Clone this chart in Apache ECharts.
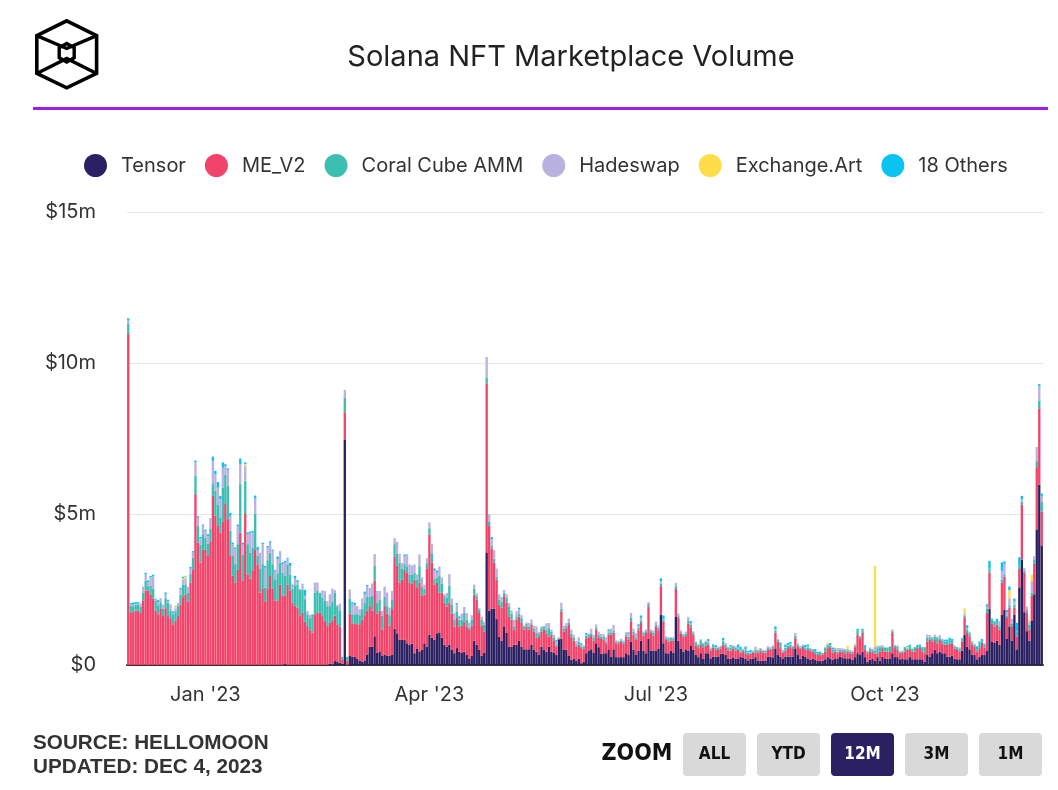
<!DOCTYPE html>
<html>
<head>
<meta charset="utf-8">
<script src="https://cdn.jsdelivr.net/npm/echarts@6/dist/echarts.min.js"></script>
<style>
html,body{margin:0;padding:0;background:#fff;}
#chart{width:1058px;height:790px;}
</style>
</head>
<body>
<div id="chart"></div>
<script>
// ---- DATA (daily, $ millions), first day 2022-12-01 ----
const startDate = '2022-12-01';
const seriesNames = ['Tensor', 'ME_V2', 'Coral Cube AMM', 'Hadeswap', 'Exchange.Art', '18 Others'];
const tickDays = [31, 121, 212, 304];
const tickLabels = ["Jan '23", "Apr '23", "Jul '23", "Oct '23"];
const yTickLabels = ['$0', '$5m', '$10m', '$15m'];

const tensor = [
0,0,0,0,0,0,0,0,0,0, 0,0,0,0,0,0,0,0,0,0, 0,0,0,0,0,0,0,0,0,0, 0,0,0,0,0,0,0,0,0,0,
0,0,0,0,0,0,0,0,0,0, 0,0,0,0,0,0,0,0,0,0, 0,0,0,0.03,0,0,0,0,0,0, 0,0,0,0,0,0,0,0,0,0,
0,0.05,0.02,0.13,0.12,0.08,0.05,7.45,0,0.3, 0.28,0.28,0.2,0.15,0.1,0.15,0.35,0.6,0.6,0.95,
0.4,0.45,0.3,0.35,0.3,0.3,0.35,1.2,1.05,0.83, 0.83,0.83,0.72,0.67,0.7,0.39,0.55,0.45,0.5,0.72,
0.6,1.0,0.9,0.83,1.05,1.08,0.9,0.67,0.61,0.67, 0.5,0.39,0.56,0.44,0.4,0.44,0.33,0.22,0.3,0.8,
0.67,0.5,0.3,0.41,3.73,1.8,1.87,1.87,1.52,0.94, 0.8,1.28,1.06,0.61,0.6,0.67,0.67,0.8,0.6,0.52,
0.52,0.52,0.67,0.5,0.44,0.33,0.61,0.5,0.44,0.61, 0.44,0.4,0.33,0.85,0.87,0.5,0.5,0.3,0.17,0.2,
0.15,0.2,0.06,0.1,0.39,0.48,0.52,0.4,0.72,0.59, 0.37,0.39,0.39,0.52,0.28,0.52,0.26,0.26,0.26,0.26,
0.39,0.33,0.78,0.5,0.33,0.48,0.81,0.48,0.39,0.87, 0.48,0.48,0.48,0.55,1.67,0.72,0.39,0.39,0.48,0.4,
1.59,0.8,0.55,0.44,0.52,0.48,0.63,0.5,0.33,0.26, 0.39,0.2,0.39,0.39,0.22,0.28,0.28,0.28,0.37,0.37,
0.33,0.2,0.2,0.25,0.2,0.2,0.28,0.25,0.2,0.15, 0.2,0.2,0.26,0.15,0.15,0.15,0.15,0.28,0.28,0.25,
0.55,0.33,0.28,0.2,0.28,0.28,0.28,0.28,0.55,0.33, 0.2,0.3,0.28,0.2,0.18,0.2,0.17,0.13,0.13,0.15,
0.19,0.26,0.22,0.17,0.22,0.22,0.28,0.25,0.22,0.22, 0.22,0.17,0.26,0.39,0.33,0.44,0.26,0.11,0.17,0.2,
0.14,0.26,0.14,0.28,0.2,0.2,0.2,0.39,0.26,0.26, 0.19,0.2,0.19,0.19,0.26,0.19,0.19,0.19,0.19,0.19,
0.11,0.33,0.28,0.39,0.5,0.39,0.44,0.39,0.39,0.28, 0.28,0.3,0.2,0.19,0.19,0.47,1.0,0.61,0.52,0.33,
0.33,0.19,0.28,0.33,0.33,0.47,1.86,0.78,0.73,0.81, 0.67,1.67,1.82,0.86,1.28,0.81,1.67,0.52,2.57,3.49,
1.75,1.12,0.8,1.48,2.34,4.49,5.97,3.96
];
const meV2 = [
10.96,1.75,1.75,1.8,1.8,1.72,2.14,2.47,2.47,2.34, 2.2,1.79,1.68,1.88,1.62,1.88,1.62,1.55,1.35,1.48,
1.62,2.0,2.25,2.34,2.09,2.73,3.15,5.66,4.05,3.39, 3.81,3.81,3.61,4.07,5.6,4.94,4.6,4.39,4.74,5.33,
4.83,3.61,2.95,2.73,3.15,4.39,2.8,5.0,3.0,2.86, 3.14,3.81,3.31,2.4,2.54,2.09,2.54,2.95,2.54,2.14,
2.14,2.67,2.29,2.26,2.67,2.47,2.07,1.96,1.9,1.62, 1.73,1.43,1.29,1.15,1.07,1.68,1.73,1.73,1.62,1.46,
1.29,1.35,1.46,1.5,1.23,1.18,0.12,0.92,0.15,1.4, 1.1,1.1,1.15,1.2,1.4,1.5,1.45,1.35,1.2,1.85,
1.3,1.35,0.87,1.6,1.4,1.0,1.5,2.4,2.23,1.9, 2.0,2.33,2.33,2.05,2.0,2.44,2.0,2.27,1.8,1.61,
2.6,3.33,2.5,1.84,1.67,1.31,1.5,1.39,1.33,1.39, 1.2,0.89,1.0,0.84,0.9,1.0,0.95,0.95,1.0,1.53,
1.5,1.22,1.0,0.7,5.6,2.8,1.99,1.52,1.31,1.06, 1.1,1.0,1.0,1.0,0.9,0.5,0.83,0.8,0.8,0.65,
0.76,0.65,0.66,0.6,0.45,0.6,0.5,0.67,0.61,0.33, 0.56,0.4,0.28,0.02,0.91,0.6,0.72,1.05,0.78,0.6,
0.45,0.47,0.5,0.45,0.5,0.44,0.44,0.4,0.45,0.33, 0.49,0.46,0.33,0.48,0.72,0.55,0.46,0.46,0.5,0.45,
0.56,0.5,0.67,0.5,0.5,0.67,0.58,0.5,0.67,1.07, 0.58,0.5,0.8,0.6,0.94,0.72,0.44,0.39,0.33,0.4,
0.93,0.76,0.48,0.5,0.44,0.9,0.6,0.5,0.32,0.3, 0.28,0.39,0.25,0.28,0.25,0.3,0.22,0.24,0.18,0.3,
0.26,0.28,0.28,0.3,0.28,0.3,0.13,0.2,0.19,0.18, 0.17,0.2,0.16,0.26,0.33,0.26,0.26,0.24,0.22,0.3,
0.52,0.44,0.28,0.2,0.19,0.28,0.31,0.25,0.34,0.28, 0.33,0.3,0.22,0.3,0.3,0.25,0.22,0.2,0.2,0.2,
0.25,0.3,0.37,0.24,0.22,0.17,0.17,0.2,0.17,0.22, 0.17,0.22,0.33,0.61,0.53,0.62,0.24,0.28,0.28,0.25,
0.24,0.13,0.3,0.28,0.24,0.24,0.24,0.67,0.3,0.25, 0.2,0.2,0.26,0.31,0.24,0.25,0.26,0.37,0.37,0.26,
0.28,0.45,0.56,0.39,0.33,0.33,0.39,0.33,0.28,0.39, 0.44,0.4,0.35,0.33,0.26,0.31,0.56,0.45,0.43,0.34,
0.28,0.26,0.28,0.41,0.25,1.26,1.2,0.6,0.55,0.53, 0.5,1.06,1.11,0.7,0.62,0.45,0.23,0.43,0.61,1.81,
1.3,0.61,0.37,0.81,1.01,2.06,2.53,1.12
];
const coralCube = [
0.33,0.2,0.2,0.2,0.2,0.22,0.25,0.33,0.14,0.28, 0.33,0.33,0.3,0.2,0.25,0.33,0.44,0.26,0.33,0.3,
0.33,0.33,0.42,0.33,0.3,0.28,0.4,0.6,0.55,0.6, 0.52,0.4,0.4,0.44,0.39,0.83,0.72,0.5,1.14,0.98,
1.1,0.83,0.66,0.61,0.85,1.6,0.86,1.1,1.0,0.85, 0.75,1.2,0.3,0.8,0.8,0.47,0.93,0.77,0.8,0.7,
0.9,0.72,0.77,0.66,0.66,0.53,0.44,0.68,0.77,0.88, 0.77,0.75,0.39,0.4,0.61,0.72,0.72,0.66,0.61,0.66,
0.66,0.55,0.61,0.77,0.6,0.55,0.1,0.47,0.12,0.5, 0.3,0.3,0.35,0.3,0.35,0.4,0.45,0.3,0.5,0.48,
0.35,0.35,0.45,0.3,0.25,0.35,0.3,0.4,0.4,0.65, 0.35,0.2,0.22,0.28,0.3,0.22,0.28,0.55,0.3,0.19,
0.17,0.2,0.3,0.17,0.17,0.58,0.3,0.22,0.28,0.56, 0.3,0.22,0.22,0.22,0.2,0.28,0.22,0.06,0.2,0.19,
0.11,0.11,0.2,0.22,0.19,0.14,0.08,0.13,0.1,0.17, 0.2,0.11,0.17,0.33,0.2,0.11,0.11,0.1,0.15,0.11,
0.09,0.11,0.05,0.1,0.17,0.11,0.11,0.11,0.11,0.28, 0.11,0.1,0.06,0.03,0.08,0.1,0.08,0.06,0.09,0.1,
0.06,0.1,0.06,0.05,0.08,0.07,0.09,0.1,0.06,0.08, 0.08,0.08,0.05,0.08,0.08,0.06,0.05,0.05,0.06,0.05,
0.06,0.1,0.11,0.1,0.06,0.08,0.09,0.08,0.06,0.08, 0.06,0.08,0.06,0.08,0.09,0.05,0.06,0.08,0.08,0.08,
0.09,0.06,0.06,0.06,0.07,0.1,0.1,0.06,0.1,0.1, 0.15,0.12,0.13,0.07,0.08,0.08,0.06,0.06,0.06,0.12,
0.08,0.08,0.1,0.07,0.1,0.05,0.06,0.06,0.1,0.07, 0.03,0.05,0.09,0.06,0.05,0.06,0.06,0.06,0.05,0.06,
0.07,0.06,0.17,0.05,0.1,0.08,0.08,0.08,0.08,0.06, 0.05,0.05,0.06,0.08,0.06,0.05,0.06,0.06,0.1,0.05,
0.14,0.11,0.04,0.11,0.08,0.05,0.05,0.05,0.1,0.05, 0.06,0.05,0.05,0.14,0.07,0.08,0.1,0.05,0.08,0.05,
0.1,0.2,0.15,0.05,0.14,0.14,0.17,0.06,0.08,0.09, 0.05,0.05,0.14,0.05,0.11,0.1,0.14,0.03,0.1,0.14,
0.2,0.13,0.06,0.1,0.11,0.17,0.06,0.1,0.11,0.11, 0.08,0.1,0.07,0.07,0.08,0.08,0.08,0.12,0.1,0.08,
0.06,0.07,0.15,0.06,0.1,0.13,0.13,0.13,0.17,0.06, 0.11,0.09,0.05,0.08,0.08,0.1,0.1,0.17,0.11,0.1,
0.08,0.09,0.17,0.11,0.15,0.2,0.26,0.33
];
const hadeswap = [
0.11,0.05,0.05,0.02,0.03,0.1,0.21,0.2,0.13,0.28, 0.4,0.05,0.1,0.13,0.13,0.13,0.05,0.2,0.05,0.1,
0.1,0.17,0.15,0.2,0.2,0.18,0.17,0.45,0.28,0.2, 0.28,0.22,0.25,0.31,0.77,0.55,0.55,0.6,0.66,0.28,
0.53,0.5,0.39,0.5,0.6,0.66,0.33,0.5,0.33,0.66, 0.5,0.5,0.2,0.52,0.66,0.66,0.42,0.33,0.44,0.28,
0.47,0.38,0.28,0.44,0.19,0.27,0.11,0.22,0.08,0.02, 0.17,0.11,0.11,0.11,0,0.33,0.28,0,0.24,0.33,
0.17,0.39,0.44,0.08,0.03,0.22,0,0.27,0,0.3, 0.35,0.3,0.25,0.2,0.35,0.3,0.35,0.3,0.4,0.39,
0.4,0.3,0.18,0.35,0.45,0.25,0.3,0.2,0.4,0.3, 0.2,0.25,0.4,0.33,0.3,0.28,0.17,0.39,0.3,0.14,
0.17,0.19,0.3,0.28,0.17,0.29,0.2,0.06,0.17,0.39, 0.2,0.22,0.22,0.05,0.2,0.2,0.22,0.17,0.15,0.14,
0.09,0.06,0.1,0.1,0.68,0.25,0.22,0.28,0.26,0.17, 0.15,0.09,0.11,0.11,0.1,0.22,0.17,0.15,0.1,0.03,
0.04,0.11,0.13,0.1,0.22,0.06,0.06,0,0.22,0.17, 0.06,0.1,0.11,0.02,0.2,0.1,0.09,0.13,0.13,0.1,
0.13,0.15,0.05,0.05,0.03,0.05,0.15,0.1,0.11,0.1, 0.09,0.09,0.15,0.05,0.12,0.2,0.05,0.03,0.05,0.05,
0.08,0.1,0.16,0.1,0.16,0.05,0.08,0.05,0.06,0.06, 0.06,0.08,0.1,0.08,0.08,0.03,0.06,0.06,0.03,0.05,
0.11,0.08,0.06,0.04,0.08,0.1,0.06,0.05,0.03,0.03, 0.03,0.03,0.03,0.05,0.03,0.04,0.03,0.02,0.03,0.03,
0.06,0.04,0.03,0.03,0.04,0.03,0.03,0.03,0.04,0.03, 0.03,0.03,0.1,0.03,0.03,0.03,0.03,0.05,0.04,0.04,
0.05,0.03,0.03,0.05,0.03,0.03,0.03,0.03,0.09,0.05, 0.05,0.03,0.02,0.04,0.03,0.03,0,0,0.02,0,
0.03,0.02,0.03,0,0.05,0.12,0.06,0.05,0.04,0.05, 0.05,0.03,0.02,0,0.03,0,0,0.03,0.05,0.03,
0.13,0.05,0.05,0.05,0,0,0,0.06,0.03,0.05, 0,0.03,0,0,0,0,0,0,0,0,
0,0.1,0.09,0.05,0.06,0.05,0.1,0.05,0,0, 0,0,0.03,0,0.05,0.05,0.05,0.04,0.05,0.05,
0.03,0,0,0,0,0.07,0,0,0,0, 0.17,0.3,0.37,0.11,0.23,0.17,0.1,0,0,0.09,
0.08,0.11,0.1,0.39,0.1,0.47,0.47,0.19
];
const exchangeArt = [
0,0,0,0,0,0,0,0,0,0, 0,0,0,0,0,0,0,0,0,0.05, 0,0,0.05,0.06,0,0,0,0,0,0, 0,0,0,0,0,0,0,0,0,0,
0,0,0,0,0,0,0,0.05,0,0, 0,0,0,0,0,0,0,0,0,0, 0,0,0,0,0,0,0,0,0,0, 0,0,0,0,0,0,0,0,0,0,
0,0,0,0,0,0,0,0,0,0, 0,0,0,0,0,0,0,0,0,0, 0,0,0,0,0,0,0,0,0,0, 0,0,0,0,0,0,0,0,0,0,
0,0,0,0,0,0,0,0,0,0, 0,0,0,0,0,0,0,0,0,0, 0,0,0,0,0,0,0,0,0,0, 0,0,0,0,0,0,0,0,0,0,
0,0,0,0,0,0,0,0,0,0, 0,0,0,0,0,0,0,0,0,0, 0,0,0,0,0,0,0,0,0,0, 0,0,0,0,0,0,0,0,0,0,
0,0,0,0,0,0,0,0,0,0, 0,0,0,0,0,0,0,0,0,0, 0,0,0,0,0,0,0,0,0,0, 0,0,0,0,0,0,0,0,0,0,
0,0,0,0,0,0,0,0,0,0, 0,0,0,0.04,0,0,0,0,0,0, 0,0,0,0,0,0,0,0,0,0, 0,0,0,0,0,0,0,0,0,0,
0,0.05,0,0,0,0,0,0,0,0.1, 0,0,0.05,0,0,0,0,0,0,0, 2.67,0,0,0,0,0,0,0,0,0, 0,0,0,0.05,0,0,0,0,0,0,
0,0,0,0,0,0,0,0,0,0, 0,0,0,0,0,0,0.19,0,0,0, 0,0,0,0,0,0,0,0,0,0, 0,0,0,0,0.27,0,0,0,0,0,
0,0,0.06,0.2,0,0,0,0
];
const others18 = [
0.08,0.05,0.07,0.06,0.05,0,0,0.05,0.06,0.05, 0.06,0.03,0.07,0,0,0.06,0.05,0,0.05,0.02,
0,0.05,0.05,0.02,0,0.06,0.05,0.06,0.05,0.05, 0.04,0.05,0.07,0.03,0.14,0.11,0.19,0.11,0.17,0.06,
0.05,0.1,0.05,0.05,0.05,0.19,0.06,0.06,0.06,0.05, 0.05,0.1,0.1,0,0.05,0.06,0.05,0.05,0.04,0.03,
0.08,0,0.06,0.06,0.03,0.11,0.04,0.09,0.06,0, 0.02,0.2,0,0,0,0,0,0,0,0,
0,0,0,0,0,0,0,0,0,0, 0.05,0.08,0,0,0,0.08,0.05,0,0,0,
0,0,0,0,0,0,0,0,0,0, 0,0.05,0,0,0,0,0,0,0,0,
0,0,0,0.08,0.07,0,0,0,0,0, 0,0,0.05,0.06,0,0,0,0,0,0,
0,0,0,0,0,0,0.08,0,0,0, 0,0,0,0,0,0,0,0.05,0,0,
0,0,0,0,0,0,0,0,0,0, 0,0,0.05,0,0,0,0,0,0,0,
0,0,0.05,0,0.06,0,0,0,0,0, 0,0,0,0.05,0,0,0,0,0,0,
0,0.05,0,0,0,0.07,0.08,0,0,0, 0,0,0,0,0.09,0.12,0,0,0,0,
0,0,0,0,0,0,0.06,0,0,0, 0,0,0,0.07,0,0,0.07,0,0,0.08,
0,0,0.05,0,0,0.1,0.1,0,0.08,0.03, 0.07,0,0,0,0,0,0,0,0,0,
0.09,0,0,0,0.08,0.06,0.06,0,0,0, 0,0,0.08,0.06,0,0,0.08,0.05,0,0,
0,0,0.07,0.06,0,0,0,0,0,0, 0,0,0,0.06,0,0.06,0.06,0,0,0,
0,0,0,0,0,0,0,0,0,0, 0,0,0,0.03,0.06,0,0,0.07,0.02,0,
0,0,0,0,0,0,0,0,0.06,0.06, 0.1,0.06,0,0,0,0,0,0.1,0,0,
0,0.1,0.07,0.06,0.03,0.08,0.26,0.03,0,0.13, 0,0.28,0.08,0.07,0.12,0,0.1,0.28,0.28,0.11,
0,0,0,0,0,0,0.07,0.08
];
const colors = ['#2b2162', '#f2446a', '#3cbeb0', '#b9b2e0', '#fddd4a', '#0bc3f0'];

// ---- categories (one per day) ----
const categories = [];
{
  const d0 = new Date(startDate + 'T00:00:00Z');
  for (let i = 0; i < tensor.length; i++) {
    const d = new Date(d0.getTime() + i * 86400000);
    categories.push(d.toISOString().slice(0, 10));
  }
}
const seriesData = [tensor, meV2, coralCube, hadeswap, exchangeArt, others18];

const FONT = 'Inter, "Noto Sans", sans-serif';
const NARROW = '"Liberation Sans Narrow", "DejaVu Sans Condensed", "Roboto Condensed", "Liberation Sans", sans-serif';

const chart = echarts.init(document.getElementById('chart'), null, {renderer: 'canvas'});

const buttons = [
  {t: 'ALL', x: 683, on: false},
  {t: 'YTD', x: 757, on: false},
  {t: '12M', x: 831, on: true},
  {t: '3M', x: 905, on: false},
  {t: '1M', x: 979, on: false}
];
const graphics = [
  // logo
  {type: 'polygon', shape: {points: [[66.7,20.8],[96.6,35.6],[96.6,73.4],[66.7,87.8],[36.8,73.4],[36.8,35.6]]},
   style: {fill: 'none', stroke: '#000', lineWidth: 3.6, lineJoin: 'miter'}},
  {type: 'polygon', shape: {points: [[66.7,43.5],[74.2,47.8],[74.2,57.8],[66.7,62],[59.2,57.8],[59.2,47.8]]},
   style: {fill: 'none', stroke: '#000', lineWidth: 3.4, lineJoin: 'miter'}},
  {type: 'polyline', shape: {points: [[36.8,35.6],[66.7,48.5],[96.6,35.6]]}, style: {fill: 'none', stroke: '#000', lineWidth: 3.4}},
  {type: 'polyline', shape: {points: [[36.8,73.4],[66.7,58.5],[96.6,73.4]]}, style: {fill: 'none', stroke: '#000', lineWidth: 3.4}},
  // title
  {type: 'text', x: 571, y: 57, style: {text: 'Solana NFT Marketplace Volume', font: '400 29px ' + FONT, fill: '#222', textAlign: 'center', textVerticalAlign: 'middle'}},
  // purple rule
  {type: 'rect', shape: {x: 33, y: 107, width: 1015, height: 3}, style: {fill: '#9b1ff0'}},
  // footer
  {type: 'text', x: 33, y: 743, style: {text: 'SOURCE: HELLOMOON', font: 'bold 20.7px "Liberation Sans", Arial, sans-serif', fill: '#333', textVerticalAlign: 'middle'}},
  {type: 'text', x: 33, y: 767, style: {text: 'UPDATED: DEC 4, 2023', font: 'bold 20.7px "Liberation Sans", Arial, sans-serif', fill: '#333', textVerticalAlign: 'middle'}},
  {type: 'text', x: 637, y: 754, style: {text: 'ZOOM', font: 'bold 23px ' + NARROW, fill: '#111', textAlign: 'center', textVerticalAlign: 'middle'}}
];
buttons.forEach(b => {
  graphics.push({type: 'rect', shape: {x: b.x, y: 733, width: 63, height: 43, r: 4},
    style: {fill: b.on ? '#2b2162' : '#d9d9d9'}});
  graphics.push({type: 'text', x: b.x + 31.5, y: 755, style: {text: b.t, font: 'bold 17px ' + NARROW,
    fill: b.on ? '#fff' : '#111', textAlign: 'center', textVerticalAlign: 'middle'}});
});

const option = {
  animation: false,
  backgroundColor: '#fff',
  color: colors,
  legend: {
    left: 84, top: 154, padding: 0,
    icon: 'circle', itemWidth: 23, itemHeight: 23, itemGap: 19,
    selectedMode: false,
    textStyle: {fontFamily: FONT, fontSize: 20, color: '#333', padding: [0, 0, 0, 9]},
    data: seriesNames
  },
  grid: {left: 127, right: 15, top: 212, bottom: 125, containLabel: false},
  xAxis: {
    type: 'category',
    data: categories,
    axisLine: {lineStyle: {color: '#333', width: 2}},
    axisTick: {show: false},
    axisLabel: {
      interval: (idx) => tickDays.indexOf(idx) >= 0,
      formatter: (v, idx) => { const k = tickDays.indexOf(idx); return k >= 0 ? tickLabels[k] : ''; },
      fontFamily: FONT, fontSize: 20, color: '#333', margin: 20
    },
    splitLine: {show: false}
  },
  yAxis: {
    type: 'value', min: 0, max: 15, interval: 5,
    axisLine: {show: false}, axisTick: {show: false},
    axisLabel: {formatter: (v) => yTickLabels[Math.round(v / 5)], fontFamily: FONT, fontSize: 20, color: '#333', margin: 31},
    splitLine: {lineStyle: {color: '#e6e6e6', width: 1}}
  },
  series: seriesNames.map((n, i) => ({
    name: n, type: 'bar', stack: 'vol', data: seriesData[i],
    barCategoryGap: '6%', itemStyle: {color: colors[i]},
    emphasis: {disabled: true}
  })),
  graphic: graphics
};
chart.setOption(option);
</script>
</body>
</html>
